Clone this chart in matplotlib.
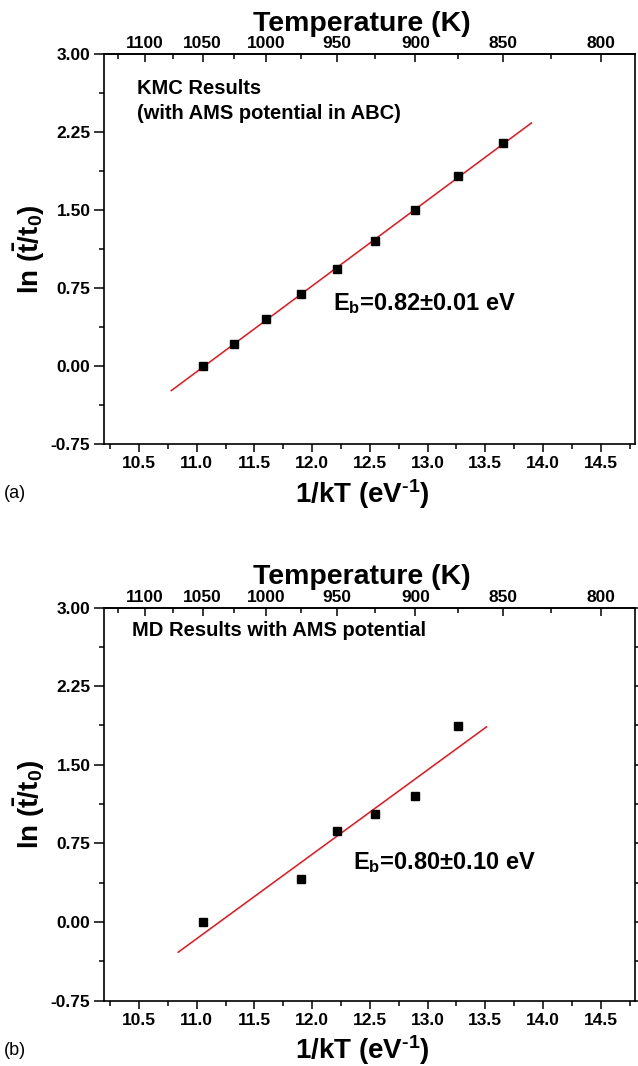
import numpy as np
import matplotlib
matplotlib.use('Agg')
import matplotlib.pyplot as plt
from matplotlib.ticker import FixedLocator, MultipleLocator

plt.rcParams['font.family'] = ['Liberation Sans', 'DejaVu Sans']
plt.rcParams['font.weight'] = 'bold'
plt.rcParams['mathtext.fontset'] = 'custom'
plt.rcParams['mathtext.rm'] = 'Liberation Sans:bold'
plt.rcParams['mathtext.it'] = 'Liberation Sans:bold'
plt.rcParams['mathtext.bf'] = 'Liberation Sans:bold'

K_B = 8.617e-5  # eV/K

# panel (a): KMC results
kmc_temps = [1050, 1025, 1000, 975, 950, 925, 900, 875, 850]
kmc_lnt = [0.00, 0.21, 0.45, 0.69, 0.93, 1.20, 1.50, 1.83, 2.14]
kmc_fit_range = [10.78, 13.90]
kmc_label = 'KMC Results\n(with AMS potential in ABC)'
kmc_eb = r'E$_\mathrm{b}$=0.82±0.01 eV'

# panel (b): MD results
md_temps = [1050, 975, 950, 925, 900, 875]
md_lnt = [0.00, 0.41, 0.87, 1.03, 1.20, 1.87]
md_fit_range = [10.84, 13.51]
md_label = 'MD Results with AMS potential'
md_eb = r'E$_\mathrm{b}$=0.80±0.10 eV'

temp_ticks = [1100, 1050, 1000, 950, 900, 850, 800]
temp_minor = [1125, 1075, 1025, 975, 925, 875, 825]


def inv_kt(t):
    t = np.asarray(t, dtype=float)
    with np.errstate(divide='ignore'):
        return 1.0 / (K_B * t)


def draw_panel(ax, temps, lnt, fit_range, label, label_xy, eb, eb_xy, tag, right_ticks=False):
    x = inv_kt(temps)
    y = np.array(lnt)
    slope, icpt = np.polyfit(x, y, 1)
    xf = np.array(fit_range)
    ax.plot(xf, slope * xf + icpt, color='#e8141c', lw=1.1, zorder=2)
    ax.plot(x, y, 's', color='black', ms=5.5, zorder=3)

    ax.set_xlim(10.2, 14.8)
    ax.set_ylim(-0.75, 3.0)
    ax.xaxis.set_major_locator(MultipleLocator(0.5))
    ax.xaxis.set_minor_locator(MultipleLocator(0.25))
    ax.set_yticks([-0.75, 0.0, 0.75, 1.5, 2.25, 3.0])
    ax.set_yticklabels(['-0.75', '0.00', '0.75', '1.50', '2.25', '3.00'])
    ax.yaxis.set_minor_locator(MultipleLocator(0.375))
    ax.tick_params(axis='x', which='major', direction='out', length=6, width=1.1,
                   labelsize=12.5, pad=3)
    ax.tick_params(axis='x', which='minor', direction='out', length=3.5, width=1.1)
    ax.tick_params(axis='y', which='major', direction='out', length=7, width=1.1,
                   labelsize=12.5, pad=3, right=right_ticks)
    ax.tick_params(axis='y', which='minor', direction='out', length=3.5, width=1.1,
                   right=right_ticks)
    for s in ax.spines.values():
        s.set_linewidth(1.2)

    ax.set_xlabel(r'1/kT (eV$^{\text{-}1}$)', fontsize=20, fontweight='bold', labelpad=4)
    ax.xaxis.label.set_x(0.485)
    ax.set_ylabel(r'ln ($\bar{\mathrm{t}}$/t$_0$)', fontsize=20, fontweight='bold', labelpad=3)

    top = ax.secondary_xaxis('top', functions=(inv_kt, inv_kt))
    top.xaxis.set_major_locator(FixedLocator(temp_ticks))
    top.xaxis.set_minor_locator(FixedLocator(temp_minor))
    top.tick_params(axis='x', which='major', direction='in', length=6, width=1.1,
                    labelsize=12.5, pad=2)
    top.tick_params(axis='x', which='minor', direction='in', length=3.5, width=1.1)
    top.spines['top'].set_linewidth(1.2)
    top.set_xlabel('Temperature (K)', fontsize=20.5, fontweight='bold', labelpad=4)
    top.xaxis.label.set_x(0.485)

    ax.text(label_xy[0], label_xy[1], label, transform=ax.transAxes, fontsize=14.5,
            fontweight='bold', ha='left', va='top', linespacing=1.4)
    ax.text(eb_xy[0], eb_xy[1], eb, transform=ax.transAxes, fontsize=17,
            fontweight='bold', ha='left', va='center')
    ax.text(-0.19, -0.128, tag, transform=ax.transAxes, fontsize=13,
            fontweight='normal', ha='left', va='center')


fig = plt.figure(figsize=(6.38, 10.66), dpi=100)
ax_a = fig.add_axes([0.1635, 0.5835, 0.8323, 0.3659])
ax_b = fig.add_axes([0.1635, 0.0614, 0.8323, 0.3687])

draw_panel(ax_a, kmc_temps, kmc_lnt, kmc_fit_range, kmc_label, (0.062, 0.935),
           kmc_eb, (0.43, 0.36), '(a)')
draw_panel(ax_b, md_temps, md_lnt, md_fit_range, md_label, (0.052, 0.965),
           md_eb, (0.468, 0.35), '(b)', right_ticks=True)

fig.savefig('out.png', dpi=100)
